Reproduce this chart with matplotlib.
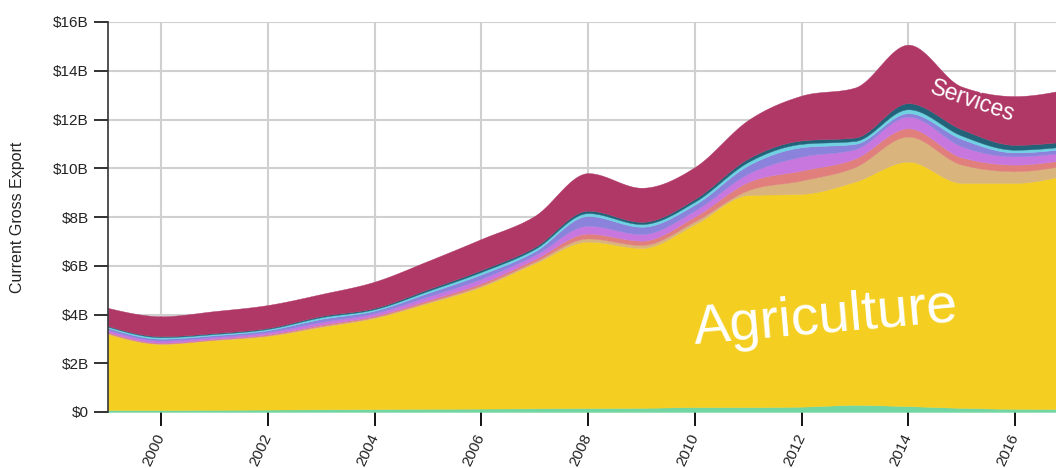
import numpy as np
import matplotlib
matplotlib.use("Agg")
import matplotlib.pyplot as plt
from matplotlib.ticker import FuncFormatter

plt.rcParams['font.family'] = ['Liberation Sans', 'DejaVu Sans']

# ---- data (billions USD) ----
years = [1999, 2000, 2001, 2002, 2003, 2004, 2005, 2006, 2007, 2008,
         2009, 2010, 2011, 2012, 2013, 2014, 2015, 2016, 2017]
minerals = [0.08, 0.08, 0.09, 0.10, 0.11, 0.12, 0.13, 0.14, 0.15, 0.16,
            0.17, 0.20, 0.20, 0.22, 0.29, 0.24, 0.17, 0.13, 0.12]
agriculture = [3.12, 2.71, 2.86, 3.02, 3.38, 3.74, 4.34, 5.00, 5.95, 6.83,
               6.56, 7.50, 8.70, 8.73, 9.16, 10.03, 9.23, 9.27, 9.63]
tan_layer = [0.03, 0.02, 0.02, 0.03, 0.04, 0.04, 0.05, 0.06, 0.07, 0.13,
             0.12, 0.12, 0.20, 0.55, 0.60, 1.03, 0.75, 0.48, 0.40]
salmon_layer = [0.04, 0.03, 0.03, 0.04, 0.05, 0.05, 0.07, 0.09, 0.10, 0.20,
                0.18, 0.20, 0.34, 0.41, 0.35, 0.34, 0.30, 0.27, 0.22]
orchid_layer = [0.10, 0.09, 0.08, 0.09, 0.12, 0.11, 0.15, 0.18, 0.17, 0.32,
                0.27, 0.25, 0.34, 0.57, 0.38, 0.48, 0.45, 0.34, 0.30]
violet_layer = [0.08, 0.08, 0.07, 0.08, 0.12, 0.10, 0.15, 0.18, 0.15, 0.40,
                0.30, 0.24, 0.34, 0.38, 0.22, 0.14, 0.30, 0.16, 0.14]
cyan_layer = [0.05, 0.06, 0.05, 0.05, 0.07, 0.06, 0.08, 0.10, 0.10, 0.12,
              0.11, 0.12, 0.14, 0.14, 0.12, 0.16, 0.14, 0.11, 0.10]
teal_layer = [0.03, 0.04, 0.04, 0.04, 0.05, 0.05, 0.07, 0.08, 0.08, 0.10,
              0.09, 0.11, 0.14, 0.14, 0.14, 0.25, 0.26, 0.20, 0.20]
services = [0.74, 0.82, 0.90, 0.94, 0.90, 1.08, 1.16, 1.27, 1.28, 1.54,
            1.40, 1.31, 1.58, 1.84, 2.05, 2.40, 1.75, 2.00, 2.14]

layers = [minerals, agriculture, tan_layer, salmon_layer, orchid_layer,
          violet_layer, cyan_layer, teal_layer, services]
colors = ['#72d6a2', '#f4cf22', '#d9b47c', '#e07f7c', '#c877df',
          '#8b82db', '#6fd1e1', '#22637a', '#b03866']

x_ticks = [2000, 2002, 2004, 2006, 2008, 2010, 2012, 2014, 2016]
y_ticks = [0, 2, 4, 6, 8, 10, 12, 14, 16]


def monotone(xs, ys, n=30):
    """d3.curveMonotoneX-style rendering of a boundary."""
    xs = np.asarray(xs, float)
    ys = np.asarray(ys, float)
    h = np.diff(xs)
    s = np.diff(ys) / h
    m = np.zeros_like(ys)
    for i in range(1, len(ys) - 1):
        p = (s[i - 1] * h[i] + s[i] * h[i - 1]) / (h[i - 1] + h[i])
        m[i] = (np.sign(s[i - 1]) + np.sign(s[i])) * min(abs(s[i - 1]), abs(s[i]), 0.5 * abs(p))
    m[0] = (3 * s[0] - m[1]) / 2
    m[-1] = (3 * s[-1] - m[-2]) / 2
    px, py = [], []
    for i in range(len(xs) - 1):
        t = np.linspace(0, 1, n, endpoint=(i == len(xs) - 2))
        h00 = 2 * t**3 - 3 * t**2 + 1
        h10 = t**3 - 2 * t**2 + t
        h01 = -2 * t**3 + 3 * t**2
        h11 = t**3 - t**2
        px.append(xs[i] + t * h[i])
        py.append(h00 * ys[i] + h10 * h[i] * m[i] + h01 * ys[i + 1] + h11 * h[i] * m[i + 1])
    return np.concatenate(px), np.concatenate(py)


fig = plt.figure(figsize=(10.56, 4.68), dpi=100)
ax = fig.add_axes([108 / 1056, 1 - 412 / 468, 1 - 108 / 1056, 390 / 468])

cum = np.zeros(len(years))
prev_x, prev_y = monotone(years, cum)
for vals, col in zip(layers, colors):
    cum = cum + np.asarray(vals)
    sx, sy = monotone(years, cum)
    ax.fill_between(sx, prev_y, sy, color=col, linewidth=0.3, edgecolor=col, zorder=2)
    prev_y = sy

ax.set_xlim(1999, 2016.77)
ax.set_ylim(0, 16)
ax.set_xticks(x_ticks)
ax.set_xticklabels([str(v) for v in x_ticks], rotation=65, ha='right', va='center',
                   rotation_mode='anchor', fontsize=11, color='#222222')
ax.set_yticks(y_ticks)
ax.yaxis.set_major_formatter(FuncFormatter(lambda v, p: '$0' if v == 0 else f'${int(v)}B'))
ax.tick_params(axis='y', length=10, width=1.3, labelsize=11, colors='#222222', pad=4)
ax.tick_params(axis='x', length=10, width=1.3, pad=6)
ax.grid(True, color='#d0d0d0', linewidth=1.5, zorder=0)
ax.set_axisbelow(True)
for sp in ['top', 'right', 'bottom']:
    ax.spines[sp].set_visible(False)
ax.spines['left'].set_color('#333333')
ax.spines['left'].set_linewidth(1.2)

ax.set_ylabel('Current Gross Export', fontsize=11.5, color='#222222', labelpad=20)

ax.text(2015.2, 12.75, 'Services', rotation=-19, color='white', fontsize=16.5,
        ha='center', va='center', zorder=5)
ax.text(2012.45, 3.85, 'Agriculture', rotation=5, color='white', fontsize=40,
        ha='center', va='center', zorder=5)

fig.savefig('out.png', dpi=100)
